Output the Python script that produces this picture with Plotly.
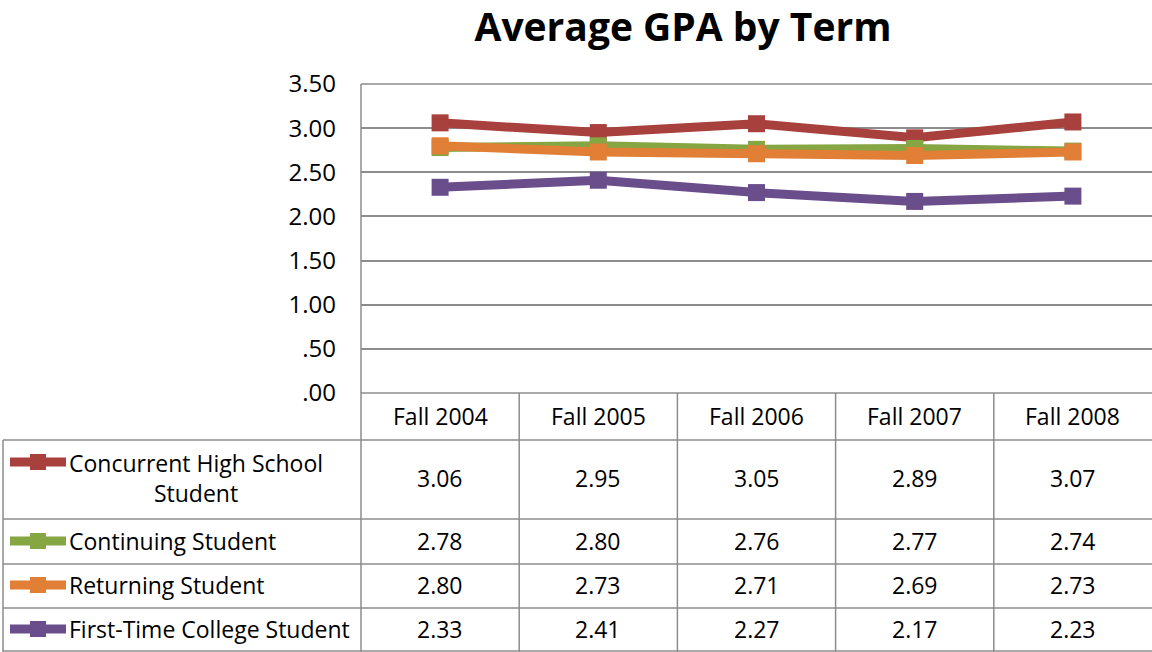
import plotly.graph_objects as go

# data
terms = ["Fall 2004", "Fall 2005", "Fall 2006", "Fall 2007", "Fall 2008"]
series_names = ["Concurrent High School<br>Student", "Continuing Student",
                "Returning Student", "First-Time College Student"]
concurrent = [3.06, 2.95, 3.05, 2.89, 3.07]
continuing = [2.78, 2.80, 2.76, 2.77, 2.74]
returning = [2.80, 2.73, 2.71, 2.69, 2.73]
first_time = [2.33, 2.41, 2.27, 2.17, 2.23]
y_ticks = [0, 0.5, 1.0, 1.5, 2.0, 2.5, 3.0, 3.5]

colors = ["#A8413D", "#86A543", "#E07F35", "#6A4E8C"]
all_values = [concurrent, continuing, returning, first_time]

W, H = 1152, 652
L, T, B = 361, 84, 393  # plot area in pixels
FONT = "Open Sans"
GRID = "#8C8C8C"
TXT = 23

def px(x):
    return (x - L) / (W - L)

def py(y):
    return (B - y) / (B - T)

fig = go.Figure()

for name, vals, col in zip(series_names, all_values, colors):
    fig.add_trace(go.Scatter(
        x=terms, y=vals, name=name, mode="lines+markers",
        line=dict(color=col, width=9),
        marker=dict(symbol="square", size=17, color=col),
        showlegend=False, cliponaxis=False,
    ))

shapes = []
def hline(y, x0, x1):
    shapes.append(dict(type="line", xref="paper", yref="paper",
                       x0=px(x0), x1=px(x1), y0=py(y), y1=py(y),
                       line=dict(color=GRID, width=1.5)))

def vline(x, y0, y1):
    shapes.append(dict(type="line", xref="paper", yref="paper",
                       x0=px(x), x1=px(x), y0=py(y0), y1=py(y1),
                       line=dict(color=GRID, width=1.5)))

# table grid
row_lines = [440, 519, 564, 608]
col_w = (W - L) / len(terms)
hline(T, L, W)
hline(B, L, W)
for y in row_lines:
    hline(y, 3, W)
hline(651, 3, W)
vline(3, 440, 652)
vline(L, T, 652)
for i in range(1, len(terms)):
    vline(L + i * col_w, B, 652)

def label(x, y, text, **kw):
    d = dict(x=px(x), y=py(y), xref="paper", yref="paper", text=text, showarrow=False,
             xanchor="center", yanchor="middle",
             font=dict(size=TXT, color="black", family=FONT))
    d.update(kw)
    annotations.append(d)

annotations = []
# category row
for i, t in enumerate(terms):
    label(L + (i + 0.5) * col_w, 416, t)

# value rows
row_mid = [478, 541, 585, 629]
key_y = [462, 541, 585, 629]
for name, vals, col, ym, ky in zip(series_names, all_values, colors, row_mid, key_y):
    for i, v in enumerate(vals):
        label(L + (i + 0.5) * col_w, ym, f"{v:.2f}")
    label(67, ym, name, xanchor="left", align="center")
    # legend key
    shapes.append(dict(type="line", xref="paper", yref="paper", x0=px(10), x1=px(66),
                       y0=py(ky), y1=py(ky), line=dict(color=col, width=9)))
    shapes.append(dict(type="rect", xref="paper", yref="paper", x0=px(30), x1=px(46),
                       y0=py(ky - 8), y1=py(ky + 8), line=dict(width=0), fillcolor=col))

fig.update_layout(
    width=W, height=H, autosize=False,
    margin=dict(l=L, r=0, t=T, b=H - B),
    paper_bgcolor="white", plot_bgcolor="white",
    title=dict(text="<b>Average GPA by Term</b>", x=683 / W, xanchor="center",
               y=1 - 27 / H, yanchor="middle",
               font=dict(size=39, color="black", family=FONT)),
    xaxis=dict(range=[-0.5, 4.5], showgrid=False, showticklabels=False,
               zeroline=False, showline=False),
    yaxis=dict(range=[0, 3.5], tickvals=y_ticks,
               ticktext=[f"{v:.2f}".lstrip("0") for v in y_ticks],
               showgrid=True, gridcolor=GRID, gridwidth=1.5, zeroline=False,
               showline=False, ticks="", ticklabelstandoff=24,
               tickfont=dict(size=24, color="black", family=FONT)),
    shapes=shapes, annotations=annotations,
)

fig.write_html("out.html", config={"displayModeBar": False},
               post_script="document.body.style.margin='0';")
